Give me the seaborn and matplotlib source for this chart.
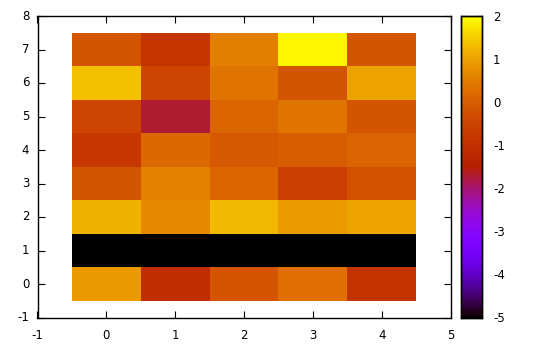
import numpy as np
import pandas as pd
import matplotlib
matplotlib.use("Agg")
import matplotlib.pyplot as plt
import seaborn as sns

xs = [0, 1, 2, 3, 4]
ys = [0, 1, 2, 3, 4, 5, 6, 7]
# values per row (y = 0 .. 7), columns x = 0 .. 4
row0 = [0.90, -1.07, -0.17, 0.29, -0.90]
row1 = [-5.0, -5.0, -5.0, -5.0, -5.0]
row2 = [1.19, 0.68, 1.28, 0.92, 1.02]
row3 = [-0.15, 0.56, 0.16, -0.58, -0.20]
row4 = [-0.78, 0.22, -0.09, -0.02, 0.13]
row5 = [-0.49, -1.71, 0.16, 0.38, -0.15]
row6 = [1.37, -0.47, 0.38, -0.15, 0.99]
row7 = [-0.15, -0.86, 0.55, 1.90, -0.15]
xticks = [-1, 0, 1, 2, 3, 4, 5]
yticks = [-1, 0, 1, 2, 3, 4, 5, 6, 7, 8]
cbticks = [-5, -4, -3, -2, -1, 0, 1, 2]

df = pd.DataFrame([row0, row1, row2, row3, row4, row5, row6, row7], index=ys, columns=xs)

sns.set_style("white")
plt.rcParams['font.family'] = ['DejaVu Sans']
plt.rcParams['font.size'] = 8.5

fig = plt.figure(figsize=(5.5, 3.5), dpi=100)
ax = fig.add_axes([37.5/550, 1 - 317.5/350, (450.5-37.5)/550, (317.5-16)/350])
cax = fig.add_axes([461/550, 1 - 317.5/350, 21/550, (317.5-16)/350])

sns.heatmap(df, ax=ax, cbar_ax=cax, cmap="gnuplot", vmin=-5, vmax=2,
            cbar_kws={"ticks": cbticks})

# heatmap cell i spans [i, i+1]; data coordinate d -> d + 0.5
ax.set_xlim(xticks[0] + 0.5, xticks[-1] + 0.5)
ax.set_ylim(yticks[0] + 0.5, yticks[-1] + 0.5)
ax.set_xticks([t + 0.5 for t in xticks])
ax.set_xticklabels([str(t) for t in xticks], rotation=0)
ax.set_yticks([t + 0.5 for t in yticks])
ax.set_yticklabels([str(t) for t in yticks], rotation=0)
ax.set_xlabel("")
ax.set_ylabel("")
for s in ax.spines.values():
    s.set_visible(True)
    s.set_color("black")
    s.set_linewidth(1.0)
ax.tick_params(direction="in", length=5, width=0.8, top=True, right=True,
               bottom=True, left=True, labelsize=8.5, pad=6, colors="black")
ax.tick_params(axis="x", pad=8)

cax.tick_params(direction="in", length=5, width=0.8, left=True, right=True,
                labelsize=8.5, pad=8, colors="black")
for s in cax.spines.values():
    s.set_visible(True)
    s.set_color("black")
    s.set_linewidth(1.0)
cax.set_yticklabels([str(t) for t in cbticks])

fig.savefig("out.png", dpi=100)
